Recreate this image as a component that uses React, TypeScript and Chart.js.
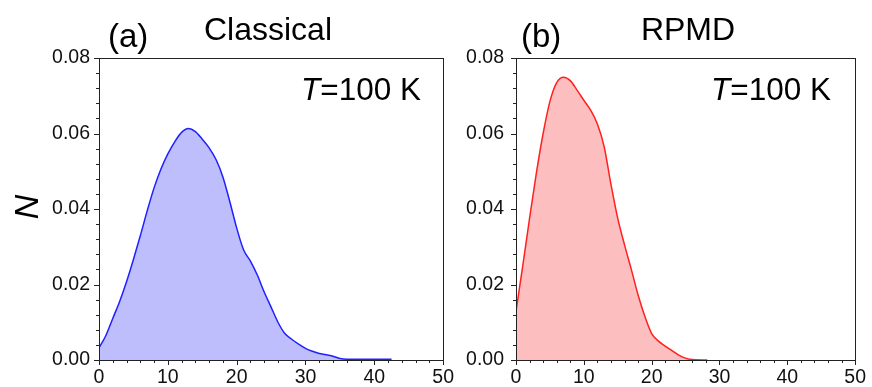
import React, { useEffect, useRef } from 'react';
import { Chart, registerables } from 'chart.js';

Chart.register(...registerables);

// ---------- data ----------
const xTickValues = [0, 10, 20, 30, 40, 50];
const yTickValues = [0, 0.02, 0.04, 0.06, 0.08];

const classicalX = [0, 1, 2, 3, 4, 5, 6, 7, 8, 9, 10, 11, 12, 13, 14, 15, 16, 17, 18, 19, 20, 21, 22, 23, 24, 25, 26, 27, 28, 29, 30, 31, 32, 33, 34, 35, 36, 38, 40, 42.5];
const classicalN = [0.0032, 0.0065, 0.011, 0.0155, 0.0207, 0.0266, 0.0329, 0.0395, 0.0456, 0.0506, 0.0546, 0.0578, 0.0603, 0.0613, 0.0605, 0.0585, 0.0562, 0.0531, 0.0485, 0.042, 0.035, 0.0292, 0.0262, 0.0225, 0.018, 0.014, 0.01, 0.007, 0.0055, 0.0042, 0.0031, 0.0023, 0.0017, 0.0014, 0.001, 0.0004, 0.0002, 0.0002, 0.0002, 0.0002];

const rpmdX = [0, 1, 2, 3, 4, 5, 6, 7, 8, 9, 10, 11, 12, 13, 14, 15, 16, 17, 18, 19, 20, 21, 22, 23, 24, 25, 26, 28.2];
const rpmdN = [0.0129, 0.025, 0.0375, 0.0495, 0.06, 0.0685, 0.0735, 0.0749, 0.074, 0.0715, 0.0688, 0.0662, 0.0625, 0.0565, 0.0465, 0.0375, 0.0305, 0.024, 0.0172, 0.0115, 0.007, 0.005, 0.0037, 0.0025, 0.0013, 0.0005, 0.0001, 0.0];

const FONT = '"Liberation Sans", Arial, Helvetica, sans-serif';

type PanelOpts = {
  label: string;
  labelLeft: number;
  title: string;
  titleCenter: number;
  tLeft: number;
  showN: boolean;
};

const framePlugin = {
  id: 'frameTicks',
  afterDatasetsDraw(chart: any) {
    const { ctx, chartArea: a, scales } = chart;
    const xs = scales.x;
    const ys = scales.y;
    ctx.save();
    ctx.strokeStyle = '#222';
    ctx.lineWidth = 1;
    ctx.strokeRect(Math.round(a.left) + 0.5, Math.round(a.top) + 0.5, Math.round(a.right - a.left), Math.round(a.bottom - a.top));
    ctx.beginPath();
    for (let v = 0; v <= 50; v += 2) {
      const px = Math.round(xs.getPixelForValue(v)) + 0.5;
      const len = v % 10 === 0 ? 5 : 3;
      ctx.moveTo(px, a.bottom);
      ctx.lineTo(px, a.bottom + len);
    }
    for (let i = 0; i <= 20; i++) {
      const py = Math.round(ys.getPixelForValue(i * 0.004)) + 0.5;
      const len = i % 5 === 0 ? 5 : 3;
      ctx.moveTo(a.left, py);
      ctx.lineTo(a.left - len, py);
    }
    ctx.stroke();
    ctx.restore();
  },
};

const textPlugin = {
  id: 'panelText',
  afterDraw(chart: any, _args: any, opts: PanelOpts) {
    const { ctx } = chart;
    ctx.save();
    ctx.fillStyle = '#000';
    ctx.textBaseline = 'alphabetic';
    ctx.font = `33px ${FONT}`;
    ctx.textAlign = 'left';
    ctx.fillText(opts.label, opts.labelLeft, 47);
    ctx.font = `32px ${FONT}`;
    ctx.textAlign = 'center';
    ctx.fillText(opts.title, opts.titleCenter, 40);
    ctx.textAlign = 'left';
    ctx.font = `italic 31.5px ${FONT}`;
    const tw = ctx.measureText('T').width;
    ctx.fillText('T', opts.tLeft, 100);
    ctx.font = `31.5px ${FONT}`;
    ctx.fillText('=100 K', opts.tLeft + tw, 100);
    if (opts.showN) {
      ctx.translate(29, 207);
      ctx.rotate(-Math.PI / 2);
      ctx.font = `italic 34px ${FONT}`;
      ctx.textAlign = 'center';
      ctx.textBaseline = 'middle';
      ctx.fillText('N', 0, 0);
    }
    ctx.restore();
  },
};

function makeConfig(xv: number[], yv: number[], line: string, fill: string, yAxisWidth: number, rightPad: number, labelPad: number, panel: PanelOpts) {
  return {
    type: 'line' as const,
    data: {
      datasets: [
        {
          data: xv.map((x, i) => ({ x, y: yv[i] })),
          borderColor: line,
          backgroundColor: fill,
          borderWidth: 1.5,
          fill: 'origin',
          pointRadius: 0,
          tension: 0.4,
          cubicInterpolationMode: 'monotone' as const,
        },
      ],
    },
    options: {
      responsive: false,
      animation: false as const,
      layout: { padding: { left: 0, top: 58, right: rightPad, bottom: 0 } },
      plugins: {
        legend: { display: false },
        tooltip: { enabled: false },
        title: { display: false },
        panelText: panel,
      },
      scales: {
        x: {
          type: 'linear' as const,
          min: 0,
          max: 50,
          afterFit: (s: any) => { s.height = 27; },
          afterBuildTicks: (s: any) => { s.ticks = xTickValues.map((v) => ({ value: v })); },
          grid: { display: false, drawTicks: false },
          border: { display: false },
          ticks: {
            font: { family: FONT, size: 19.5 },
            color: '#111',
            padding: 6,
            maxRotation: 0,
            callback: (v: any) => String(v),
          },
        },
        y: {
          type: 'linear' as const,
          min: 0,
          max: 0.08,
          afterFit: (s: any) => { s.width = yAxisWidth; },
          afterBuildTicks: (s: any) => { s.ticks = yTickValues.map((v) => ({ value: v })); },
          grid: { display: false, drawTicks: false },
          border: { display: false },
          ticks: {
            font: { family: FONT, size: 19.5 },
            color: '#111',
            padding: labelPad,
            callback: (v: any) => Number(v).toFixed(2),
          },
        },
      },
    },
    plugins: [framePlugin, textPlugin],
  };
}

export default function App() {
  const leftRef = useRef<HTMLCanvasElement>(null);
  const rightRef = useRef<HTMLCanvasElement>(null);

  useEffect(() => {
    const c1 = new Chart(
      leftRef.current as HTMLCanvasElement,
      makeConfig(classicalX, classicalN, '#2020ff', 'rgb(190,190,252)', 99, 15, 9, {
        label: '(a)', labelLeft: 108, title: 'Classical', titleCenter: 268, tLeft: 301, showN: true,
      }) as any
    );
    const c2 = new Chart(
      rightRef.current as HTMLCanvasElement,
      makeConfig(rpmdX, rpmdN, '#ff2020', 'rgb(252,190,190)', 56, 11, 12, {
        label: '(b)', labelLeft: 61, title: 'RPMD', titleCenter: 228, tLeft: 251, showN: false,
      }) as any
    );
    return () => {
      c1.destroy();
      c2.destroy();
    };
  }, []);

  return (
    <div style={{ position: 'fixed', left: 0, top: 0, width: 872, height: 387, background: '#fff' }}>
      <canvas ref={leftRef} width={460} height={387} style={{ position: 'absolute', left: 0, top: 0 }} />
      <canvas ref={rightRef} width={412} height={387} style={{ position: 'absolute', left: 460, top: 0 }} />
    </div>
  );
}
